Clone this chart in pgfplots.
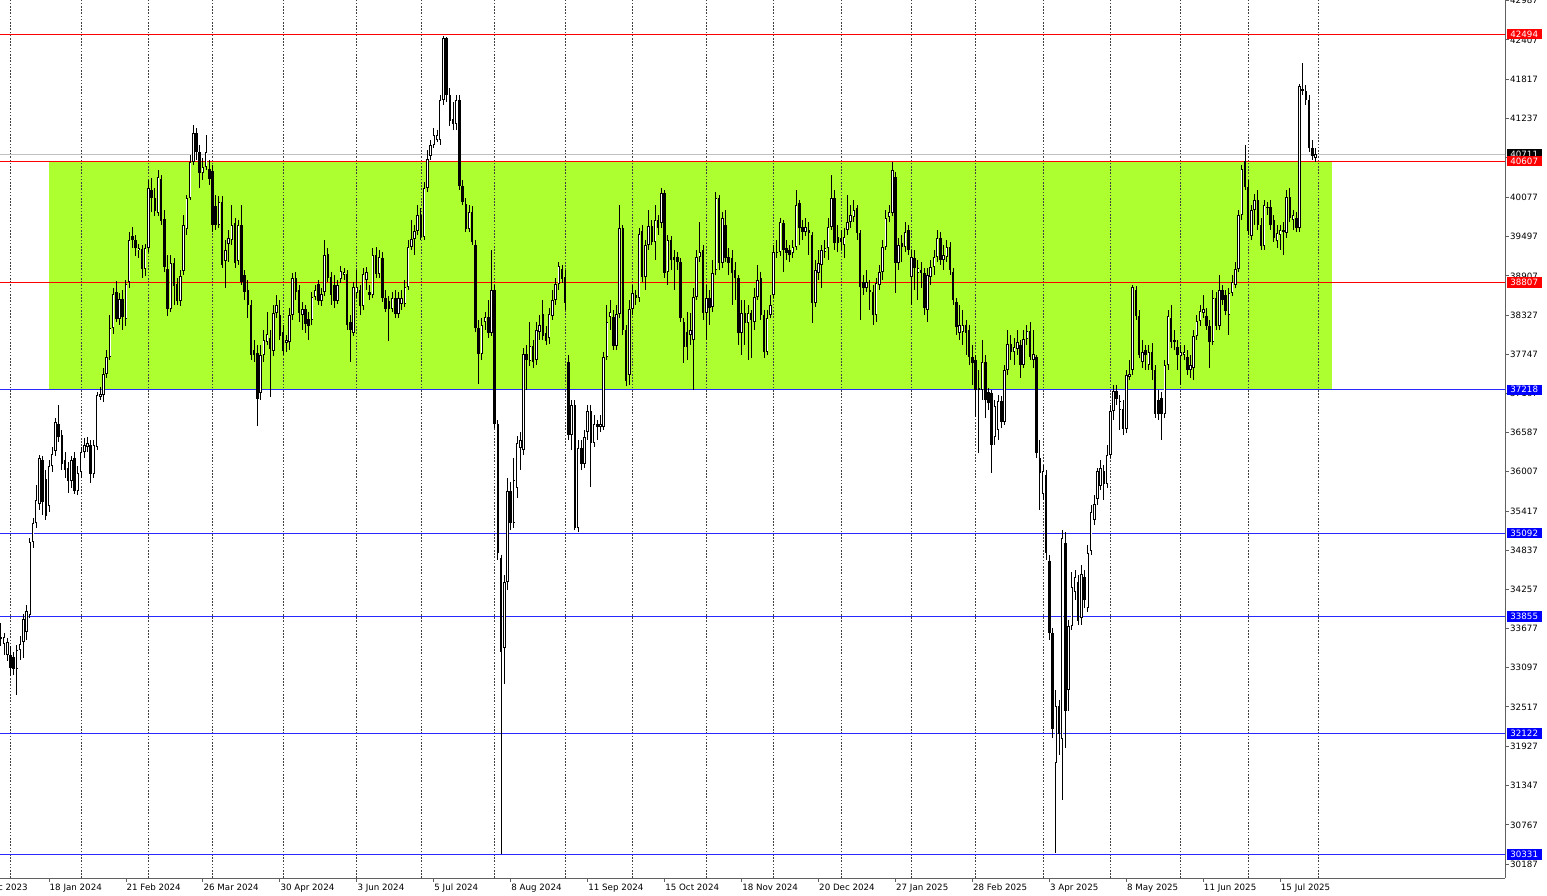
\documentclass[border=0pt]{standalone}
\usepackage{fontspec}
\setmainfont{DejaVu Sans}
\usepackage{pgfplots}
\usepackage{pgfplotstable}
\pgfplotsset{compat=1.18}
\definecolor{zone}{RGB}{173,255,47}
\definecolor{lvlblue}{RGB}{40,40,255}
\definecolor{boxblue}{RGB}{0,0,255}
\definecolor{lvlred}{RGB}{255,0,0}
\definecolor{bidgray}{RGB}{192,192,192}
\definecolor{axgray}{RGB}{96,96,96}

% daily candles, j = bar number (18 Jan 2024 = 15), o h l c
\pgfplotstableread{
j o h l c
0 33552 33761 33419 33523
1 33449 33612 33286 33552
2 33286 33537 33197 33478
3 33286 33419 32974 33093
4 33256 33330 32989 33079
5 33079 33434 32693 33360
6 33360 33567 33212 33449
7 33478 33894 33241 33820
8 33626 34027 33508 33938
9 33879 35020 33834 34961
10 34961 35317 34872 35243
11 35243 35806 35168 35584
12 35525 36251 35436 36206
13 36177 36236 35362 35554
14 35896 36029 35287 35347
15 35495 36177 35406 36088
16 36088 36370 35999 36266
17 36310 36799 36236 36740
18 36711 36993 36444 36518
19 36548 36622 36029 36118
20 36177 36295 35910 36029
21 36058 36147 35688 35865
22 35865 36236 35761 36177
23 36206 36295 35673 35717
24 35717 36088 35658 35985
25 35999 36370 35910 36295
26 36295 36503 36206 36400
27 36370 36518 36295 36430
28 36400 36474 35836 35970
29 35970 36474 35910 36400
30 36370 37185 36325 37141
31 37111 37259 37067 37156
32 37141 37541 37037 37453
33 37453 37808 37393 37704
34 37704 38327 37660 38134
35 38134 38727 38046 38639
36 38668 38831 38223 38268
37 38268 38654 38179 38565
38 38565 38698 38105 38297
39 38268 38846 38164 38787
40 38816 39558 38727 39439
41 39499 39632 39320 39439
42 39439 39514 39202 39320
43 39291 39380 39172 39320
44 39306 39365 38875 39010
45 39010 39380 38905 39320
46 39320 40329 39261 40210
47 40181 40358 39854 40062
48 40062 40210 39795 39869
49 39840 40477 39795 40373
50 40344 40403 39662 39721
51 39751 39884 38964 39039
52 39010 39217 38312 38417
53 38417 39217 38371 39099
54 39099 39172 38476 38757
55 38787 38875 38476 38535
56 38535 38994 38461 38905
57 38979 39810 38920 39662
58 39603 40107 39514 40062
59 40062 40700 40032 40596
60 40596 41145 40552 41026
61 41026 41100 40626 40744
62 40744 40848 40210 40433
63 40433 40655 40329 40522
64 40522 40996 40477 40744
65 40493 40626 40255 40344
66 40462 40552 39558 39662
67 39943 40107 39588 39662
68 39662 40092 39617 40002
69 40002 40092 39024 39069
70 39128 39439 38727 39291
71 39380 39588 39113 39469
72 39439 39958 39365 39662
73 39692 39765 39024 39099
74 39128 39736 39069 39662
75 39662 39958 38772 38816
76 38920 38994 38550 38668
77 38698 38846 38282 38476
78 38476 38550 37660 37734
79 37808 37956 37630 37734
80 37764 37882 36681 37082
81 37171 37882 37067 37734
82 37734 38105 37630 37956
83 37926 38371 37882 38046
84 37986 38105 37111 37823
85 37793 38476 37719 38357
86 38357 38624 38282 38476
87 38327 38550 37956 38016
88 38075 38179 37734 37793
89 37912 38031 37778 37956
90 37926 38431 37808 38327
91 38327 38950 38253 38875
92 38875 38964 38550 38668
93 38698 38772 38223 38357
94 38327 38520 38105 38417
95 38417 38476 38061 38194
96 38268 38371 37956 38164
97 38253 38668 38179 38594
98 38594 38772 38550 38698
99 38787 38846 38476 38535
100 38535 38727 38461 38639
101 38668 39439 38609 39217
102 39232 39320 38816 38875
103 38890 38964 38476 38624
104 38772 38920 38431 38535
105 38535 38846 38491 38772
106 38861 39054 38802 38979
107 38920 39024 38846 38964
108 38935 38994 38105 38179
109 38223 38327 37630 38105
110 38061 38816 38016 38742
111 38654 38994 38579 38742
112 38698 38772 38327 38461
113 38461 39024 38401 38935
114 38846 39039 38698 38964
115 38668 38772 38550 38624
116 38624 39320 38579 39217
117 39217 39335 38875 38935
118 38935 39291 38875 39187
119 39172 39261 38520 38579
120 38579 38698 38371 38417
121 38535 38609 37941 38417
122 38417 38668 38371 38579
123 38579 38698 38282 38342
124 38342 38668 38282 38579
125 38491 38698 38401 38579
126 38491 38846 38446 38742
127 38742 39439 38698 39335
128 39335 39736 39291 39455
129 39455 39662 39217 39573
130 39573 39958 39514 39810
131 39810 39913 39439 39484
132 39484 40299 39439 40210
133 40210 40774 40151 40641
134 40685 40922 40626 40848
135 40848 41100 40803 40996
136 40922 41070 40892 40996
137 40922 41589 40848 41515
138 41515 42464 41441 42434
139 42434 42449 41485 41589
140 41589 41693 41130 41204
141 41234 41485 41070 41160
142 41160 41589 41070 41515
143 41515 41589 40181 40240
144 40240 40329 39958 40002
145 39973 40062 39558 39603
146 39603 39958 39558 39854
147 39854 39943 39365 39409
148 39365 39439 38075 38134
149 38134 38253 37304 37749
150 37749 38282 37660 38179
151 38223 38371 38105 38297
152 38297 38550 37986 38061
153 38061 39291 38016 38698
154 38698 38772 36651 36711
155 36711 36770 34694 34799
156 34724 34769 30340 33330
157 33389 34472 32856 34368
158 34368 35910 34249 35717
159 35717 35850 35139 35243
160 35243 36206 35168 35880
161 35761 36533 35613 36430
162 36355 36592 36029 36474
163 36325 37837 36251 37749
164 37749 37882 37215 37660
165 37645 38223 37571 37867
166 37867 37956 37541 37630
167 37660 38223 37586 38105
168 38075 38327 37956 38179
169 38342 38550 37956 38016
170 38061 38164 37882 37941
171 37986 38431 37897 38342
172 38312 38698 38253 38550
173 38550 38875 38476 38787
174 38787 39113 38698 39054
175 39010 39069 38802 38861
176 38890 38994 38401 38506
177 37630 37734 36474 36548
178 36548 37067 36325 36993
179 36993 37067 35139 35168
180 35168 36474 35109 36355
181 36355 36474 36029 36118
182 36118 36622 36058 36518
183 36592 36993 36474 36903
184 36903 36993 35776 36430
185 36430 36844 36370 36711
186 36711 36770 36474 36666
187 36666 36844 36592 36711
188 36666 37778 36622 37704
189 37704 38476 37660 38223
190 38297 38550 38105 38371
191 38297 38401 37808 37867
192 37867 38476 37808 38342
193 38342 39958 38282 39617
194 39617 39662 38031 38105
195 38105 38179 37274 37348
196 37438 38550 37289 38417
197 38417 38772 38327 38654
198 38624 38698 38476 38579
199 38579 39617 38520 39529
200 39573 39662 38816 38890
201 38890 39439 38698 39365
202 39365 39884 39291 39647
203 39647 39736 39365 39409
204 39409 39958 39143 39736
205 39736 39810 39514 39617
206 39692 40210 39617 40137
207 40137 40181 38875 38950
208 38964 39514 38772 39439
209 39439 39499 38994 39143
210 39187 39291 38698 39143
211 39187 39261 38994 39113
212 39113 39172 38223 38282
213 38223 38282 37616 37852
214 38075 38371 37660 37852
215 38031 38357 37882 38105
216 37956 38727 37215 38594
217 38594 39291 38550 39187
218 39187 39706 39113 39261
219 39291 39365 38253 38357
220 38357 38772 37956 38579
221 38579 38698 38179 38431
222 38446 39143 38371 38950
223 38994 40151 38920 40062
224 40062 40107 38994 39099
225 39099 39854 39024 39765
226 39662 39884 39113 39172
227 39187 39320 38920 39099
228 39172 39291 38476 38950
229 38994 39113 38550 38875
230 38875 38920 37882 38061
231 38061 38550 37734 38357
232 38357 38550 37882 38209
233 38209 38476 37660 38357
234 38357 38401 37689 38253
235 38223 38727 38105 38594
236 38594 39069 38550 38846
237 38875 38964 38253 38327
238 38327 38401 37689 37778
239 37778 38401 37734 38282
240 38327 38624 38282 38476
241 38624 39365 38579 39261
242 39247 39439 39172 39261
243 39261 39765 39202 39706
244 39692 39736 38964 39291
245 39320 39439 39143 39247
246 39291 39365 39113 39217
247 39247 39439 39172 39335
248 39335 40181 39291 39958
249 39988 40032 39365 39617
250 39632 39736 39439 39558
251 39558 39765 39499 39632
252 39588 39706 39217 39544
253 39514 39558 38209 38506
254 38506 39143 38446 38994
255 38950 39291 38846 39099
256 39069 39365 38727 39291
257 39261 39439 39172 39320
258 39320 39765 39143 39632
259 39632 40403 39588 40062
260 40062 40181 39291 39395
261 39484 39662 39261 39395
262 39469 39588 39291 39409
263 39365 39617 39172 39484
264 39588 40107 39514 39706
265 39706 39958 39617 39810
266 39780 40032 39706 39884
267 39913 39958 39439 39544
268 39544 39588 38253 38742
269 38816 38920 38624 38727
270 38727 38994 38668 38816
271 38698 38846 38401 38668
272 38668 38772 38179 38327
273 38327 38875 38223 38802
274 38772 39069 38698 38964
275 38964 39439 38846 39335
276 39335 39884 39291 39765
277 39780 39958 39706 39854
278 39840 40596 39795 40477
279 40373 40447 38654 39099
280 39099 39469 38994 39365
281 39395 39514 39113 39335
282 39335 39706 39261 39558
283 39588 39662 39217 39291
284 38890 39291 38476 39187
285 39172 39291 38698 39024
286 38950 39143 38550 39024
287 38994 39113 38727 38950
288 38950 39024 38327 38431
289 38401 39024 38223 38920
290 38890 39143 38772 39039
291 39039 39291 38920 39187
292 39187 39588 39113 39469
293 39469 39558 39069 39143
294 39143 39365 38994 39217
295 39187 39439 39113 39335
296 39335 39409 38920 38994
297 38964 39024 38476 38550
298 38520 38579 38031 38149
299 38061 38476 37956 38179
300 38075 38401 37882 38179
301 38179 38253 37734 38061
302 38105 38179 37586 37704
303 37704 37882 37289 37616
304 37660 37734 36814 37215
305 37244 37512 36281 37215
306 37215 37956 37067 37630
307 37630 37734 36799 37067
308 37185 37244 36918 37023
309 37171 37215 35985 36400
310 36518 37067 36400 36978
311 36622 37141 36474 37052
312 37052 37126 36651 36740
313 36740 37586 36696 37512
314 37512 38105 37438 37897
315 37897 38031 37660 37778
316 37778 37986 37586 37852
317 37823 38105 37734 37926
318 37882 37956 37393 37586
319 37586 38105 37541 37972
320 37972 38179 37882 38090
321 38090 38223 37660 37704
322 37660 38105 37541 37749
323 37704 37734 36206 36281
324 36206 36474 35436 35985
325 35673 36103 35584 36014
326 35955 36029 34694 34799
327 34679 34769 33508 33612
328 33612 33686 32055 32189
329 31684 32767 30350 32529
330 32529 32618 31803 32115
331 32041 35139 31136 35020
332 34947 35109 31906 32455
333 32767 33805 32455 33716
334 33716 34516 33656 34294
335 34219 34546 34101 34442
336 34368 34472 33731 33790
337 33834 34620 33731 34487
338 34442 34546 33982 34101
339 33982 34917 33923 34799
340 34828 35510 34769 35406
341 35287 35658 35213 35525
342 35599 36058 35510 36014
343 35791 36177 35732 36058
344 36014 36103 35584 35821
345 35821 36400 35761 36251
346 36251 36993 36206 36903
347 36903 37289 36770 37200
348 37200 37289 36993 37082
349 36918 37141 36622 37052
350 36933 37067 36548 36637
351 36637 37512 36577 37438
352 37408 37660 37363 37453
353 37512 38772 37438 38742
354 38698 38757 38253 38312
355 38312 38401 37689 37734
356 37630 37956 37541 37778
357 37808 37882 37512 37734
358 37586 37882 37512 37778
359 37778 37912 37363 37512
360 37512 37586 36799 36859
361 37067 37215 36770 36859
362 37096 37185 36474 36859
363 36859 37660 36799 37586
364 37586 38401 37512 38312
365 38282 38476 37837 37926
366 37956 38105 37808 37926
367 37852 37956 37512 37734
368 37719 37882 37289 37778
369 37734 37882 37660 37778
370 37704 37808 37438 37512
371 37512 37734 37393 37586
372 37541 38105 37363 38016
373 38016 38327 37956 38238
374 38238 38476 38164 38386
375 38357 38624 38282 38417
376 38312 38431 38105 38164
377 38164 38253 37541 37926
378 37926 38698 37882 38579
379 38579 38668 38105 38164
380 38164 38920 38105 38698
381 38698 38772 38476 38550
382 38624 38698 38327 38386
383 38327 38727 38031 38654
384 38654 38920 38609 38816
385 38772 39113 38727 39010
386 39010 39884 38964 39810
387 39810 40552 39736 40492
388 40611 40848 40181 40225
389 40225 40329 39514 39573
390 39499 39958 39439 39884
391 39884 40121 39662 40032
392 40032 40181 39588 39662
393 39662 39765 39291 39350
394 39350 40032 39291 39958
395 39913 40002 39810 39928
396 39928 40032 39588 39662
397 39736 39810 39409 39469
398 39424 39662 39320 39544
399 39514 39662 39291 39588
400 39588 39706 39217 39558
401 39544 40181 39469 40077
402 40077 40210 39706 39765
403 39736 39884 39588 39810
404 39765 39854 39558 39617
405 39617 41753 39558 41723
406 41678 42064 41589 41648
407 41648 41738 41441 41515
408 41515 41589 40744 40803
409 40803 40922 40626 40685
410 40655 40803 40596 40711
}\candles

\begin{document}
\begin{tikzpicture}[font=\fontsize{8.7}{10}\selectfont]
\useasboundingbox (0pt,-17pt) rectangle (1547pt,878pt);
\begin{axis}[
  at={(0pt,0pt)}, anchor=south west,
  width=1505pt, height=878pt, scale only axis,
  xmin=-0.28, xmax=469.1, ymin=29979, ymax=42998,
  axis x line*=bottom, axis y line*=right,
  axis line style={axgray, line width=0.8pt, -},
  tick align=outside, major tick length=3.5pt,
  tick style={axgray, line width=0.8pt},
  xtick={15,39,...,399},
  xticklabels={18 Jan 2024,21 Feb 2024,26 Mar 2024,30 Apr 2024,3 Jun 2024,5 Jul 2024,8 Aug 2024,11 Sep 2024,15 Oct 2024,18 Nov 2024,20 Dec 2024,27 Jan 2025,28 Feb 2025,3 Apr 2025,8 May 2025,11 Jun 2025,15 Jul 2025},
  xticklabel style={anchor=north west, inner sep=0pt, xshift=0.5pt, yshift=-2.5pt},
  ytick={42987,42407,41817,41237,40657,40077,39497,38907,38327,37747,37167,36587,36007,35417,34837,34257,33677,33097,32517,31927,31347,30767,30187},
  yticklabels={42987,42407,41817,41237,40657,40077,39497,38907,38327,37747,37167,36587,36007,35417,34837,34257,33677,33097,32517,31927,31347,30767,30187},
  yticklabel style={anchor=west, inner sep=0pt, xshift=1.5pt},
  /pgf/number format/assume math mode=true,
  candle/.style={forget plot, draw=none, mark=none,
    error bars/y dir=plus, error bars/y explicit, error bars/error mark=none},
]
% support / resistance zone
\fill[zone] (axis cs:15,37218) rectangle (axis cs:415.2,40607);
% month grid
\pgfplotsinvokeforeach{3,25,46,66,88,111,131,154,176,197,220,241,262,284,304,325,346,368,389,411}{
  \draw[black!75, line width=0.7pt, dash pattern=on 1.6pt off 1.6pt] (axis cs:#1,29979) -- (axis cs:#1,42998);
}
% levels
\addplot[lvlred, line width=0.8pt] coordinates {(-1,42494) (470,42494)};
\addplot[lvlred, line width=0.8pt] coordinates {(-1,40607) (470,40607)};
\addplot[lvlred, line width=0.8pt] coordinates {(-1,38807) (470,38807)};
\addplot[lvlblue, line width=0.8pt] coordinates {(-1,37218) (470,37218)};
\addplot[lvlblue, line width=0.8pt] coordinates {(-1,35092) (470,35092)};
\addplot[lvlblue, line width=0.8pt] coordinates {(-1,33855) (470,33855)};
\addplot[lvlblue, line width=0.8pt] coordinates {(-1,32122) (470,32122)};
\addplot[lvlblue, line width=0.8pt] coordinates {(-1,30331) (470,30331)};
\addplot[bidgray, line width=0.8pt] coordinates {(-1,40711) (470,40711)};
% wicks
\addplot[candle, error bars/error bar style={draw=black, solid, line width=0.9pt}]
  table[x=j, y=l, y error expr=\thisrow{h}-\thisrow{l}] {\candles};
% bodies
\addplot[candle, error bars/error bar style={draw=black, solid, line width=2.5pt}]
  table[x=j, y expr={min(\thisrow{o},\thisrow{c})}, y error expr={max(abs(\thisrow{o}-\thisrow{c}),9)}] {\candles};
% hollow part of rising candles
\addplot[candle, error bars/error bar style={draw=white, solid, line width=0.8pt}]
  table[x=j, y expr={\thisrow{o}+13}, y error expr={max(\thisrow{c}-\thisrow{o}-26,0)}] {\candles};
\coordinate (b42494) at (axis cs:469.1,42494);
\coordinate (b40711) at (axis cs:469.1,40711);
\coordinate (b40607) at (axis cs:469.1,40607);
\coordinate (b38807) at (axis cs:469.1,38807);
\coordinate (b37218) at (axis cs:469.1,37218);
\coordinate (b35092) at (axis cs:469.1,35092);
\coordinate (b33855) at (axis cs:469.1,33855);
\coordinate (b32122) at (axis cs:469.1,32122);
\coordinate (b30331) at (axis cs:469.1,30331);
\end{axis}
\tikzset{lbl/.style={anchor=west, inner sep=0pt, minimum width=35pt, minimum height=10.5pt, text=white, xshift=1.5pt}}
\node[lbl, fill=lvlred] at (b42494) {42494};
\node[lbl, fill=black] at (b40711) {40711};
\node[lbl, fill=lvlred] at (b40607) {40607};
\node[lbl, fill=lvlred] at (b38807) {38807};
\node[lbl, fill=boxblue] at (b37218) {37218};
\node[lbl, fill=boxblue] at (b35092) {35092};
\node[lbl, fill=boxblue] at (b33855) {33855};
\node[lbl, fill=boxblue] at (b32122) {32122};
\node[lbl, fill=boxblue] at (b30331) {30331};
\node[anchor=north west, inner sep=0pt] at (-28pt,-6pt) {14 Dec 2023};
\end{tikzpicture}
\end{document}
